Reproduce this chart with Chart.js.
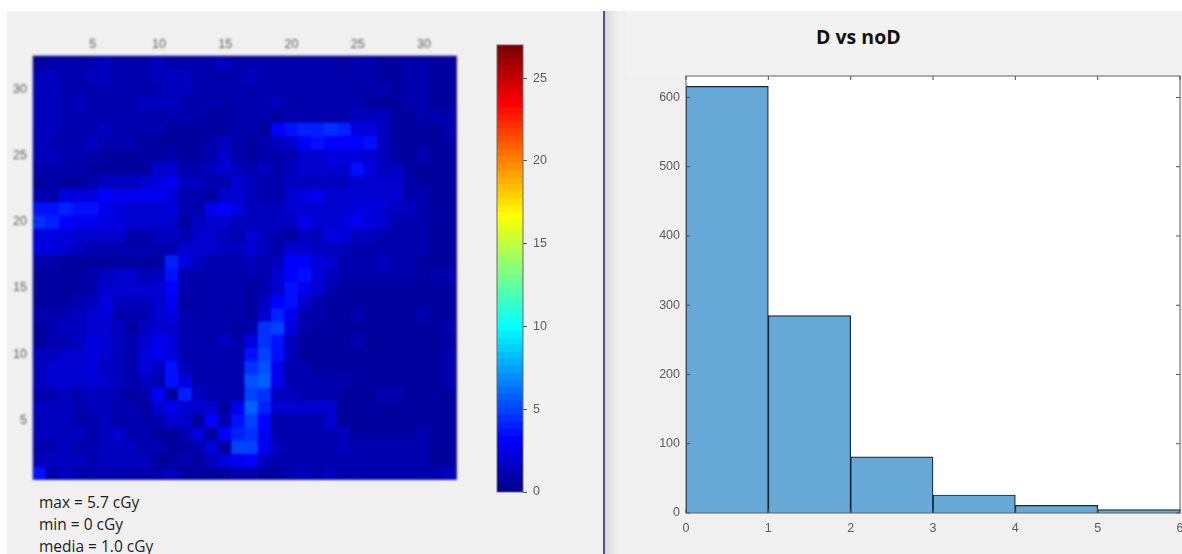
<!DOCTYPE html>
<html>
<head>
<meta charset="utf-8">
<title>D vs noD</title>
<script src="https://cdn.jsdelivr.net/npm/chart.js@4/dist/chart.umd.min.js"></script>
<style>
  html, body { margin: 0; width: 1182px; height: 554px; overflow: hidden; background: #fff; }
  #panel { position: absolute; left: 7px; top: 11px; width: 1175px; height: 543px; background: #f0f0f0; }
  #topBand { position: absolute; left: 626px; top: 11px; width: 556px; height: 64px; background: #f2f2f2; }
  #shadow { position: absolute; left: 604px; top: 11px; width: 14px; height: 543px; background: linear-gradient(to right, #d6d6d6, #f0f0f0); }
  #divider { position: absolute; left: 603px; top: 11px; width: 1.5px; height: 543px; background: #4d5282; }
  canvas { position: absolute; filter: blur(0.6px); }
  #mapCanvas { left: 8px; top: 12px; filter: blur(0.85px); }
  #barCanvas { left: 490px; top: 40px; }
  #histCanvas { left: 640px; top: 70px; }
  #histTitle { position: absolute; left: 816px; top: 23px; font: bold 19.5px "Open Sans", sans-serif; color: #111; white-space: nowrap; }
  #stats { position: absolute; left: 39px; top: 491px; font: 15.5px/22px "Open Sans", sans-serif; color: #222; white-space: nowrap; }
</style>
</head>
<body>
<div id="panel"></div>
<div id="topBand"></div>
<div id="shadow"></div>
<div id="divider"></div>
<canvas id="mapCanvas" width="449" height="468"></canvas>
<canvas id="barCanvas" width="70" height="460"></canvas>
<canvas id="histCanvas" width="560" height="484"></canvas>
<div id="histTitle">D vs noD</div>
<div id="stats">max = 5.7 cGy<br>min = 0 cGy<br>media = 1.0 cGy</div>
<script>
// Dose per cell in cGy. First line is row 32 (top), last is row 1.
const doseRows = [
  [0.6,1.2,1.2,1,1.1,1.3,1.2,1,1.1,1.3,1.2,1,1,1.1,1.3,1,1.2,0.9,0.9,0.9,1,1,0.9,0.7,0.9,0.9,0.7,0.7,0.9,1.1,0.8,0.8],
  [1.3,1.3,1.1,1.1,1.3,1.5,1.2,1,1.1,1.3,1.3,1.4,1.1,1.1,1.1,1.1,1.3,1,1,1,1,1,1,1,1,0.9,0.7,0.7,0.9,1.1,0.8,0.8],
  [1.3,1.3,1.1,1.2,1.2,1.1,1.1,1,1.1,1.2,1.3,1.3,1,1,1,1,1.2,1.2,0.9,1,1,0.9,1,1,1,0.9,0.9,0.8,0.9,1,0.8,0.8],
  [1.3,1.3,1.1,1.3,1.1,1,1,1,1.4,1.3,1.4,1.1,1,1,1,1,1.1,1.1,1.3,0.9,0.9,1.2,1.2,0.9,0.9,0.6,0.7,0.8,0.9,1,0.8,0.8],
  [1.3,1.3,1.1,1.1,1,1,1,1,1,1,1,1,0.9,0.7,0.7,0.9,1.2,1,0.7,1,1,1,1,1,1.3,1.4,1.4,0.8,0.8,0.9,0.9,1.2],
  [1.3,1.3,1.1,1,1,1.3,1,0.9,0.9,0.9,0.8,0.7,0.7,0.8,0.6,1.1,1,0.6,3,3.5,4,4,4.3,4.2,2.4,2.4,1.6,0.8,0.8,0.8,0.8,1],
  [1.3,1.2,1.1,1,1.3,1,0.9,0.9,0.6,0.7,0.8,0.8,0.8,1,1.6,1.2,0.6,1,1.4,2,3.2,3.4,3.3,3.3,3.3,3.4,1.6,0.8,0.8,0.8,0.8,0.8],
  [1.3,1.3,1.1,1,1,0.8,0.7,0.7,0.7,0.8,1,0.8,0.7,1,1.8,1.2,0.8,1,1.1,1.2,2,2,2.4,2.2,2.4,2,1.5,0.8,0.8,1,0.8,0.8],
  [1.2,1.2,1.1,1,0.8,0.7,0.7,0.7,0.7,1.8,1.8,1.2,1.1,1.3,1.8,1.3,1.2,1.4,1.2,1.5,2,2,2,1.7,3.5,2.2,1.6,1.3,0.8,0.8,0.8,0.8],
  [0.8,1,0.8,0.6,1.1,1.4,1.6,1.6,1.9,2.3,2.7,1.6,1.3,1.2,1.2,1.9,1.6,1.2,1,1.5,1.5,1.6,1.6,1.6,2,2,2,1.8,1.2,0.8,0.8,0.8],
  [0.9,1.1,2.2,2.3,2.4,3,2.8,2.6,2.6,2.8,2.4,1.1,0.9,0.8,1.7,2,1.6,1.1,1.2,1.8,2.2,2.6,1.9,1.9,2.1,2.1,2.1,2,1.2,0.9,0.8,0.8],
  [3.6,3.6,4,3.6,3.6,2.6,2.5,1.8,1.8,1.8,2.2,1.1,0.9,2.6,3.3,2.2,1.6,1.3,1.3,1.7,2,2,1.7,2,2.5,2.3,2,1.6,1.4,1,0.8,0.8],
  [4.3,3.9,3,2.8,2.7,2.3,2.2,2,2,1.8,1.8,0.8,1.4,1.8,2,1.5,1.6,1.5,1.3,1.6,2.8,2,1.8,2.2,2.6,2.2,1.7,1,1.2,1,0.8,0.8],
  [2.4,2.4,2.2,2,2,1.7,1.7,1.2,1.2,1.4,1.4,1,1.8,1.8,1.5,1.2,1.8,1.3,1.1,0.8,1.4,1.6,2.4,2.4,1.3,1.3,1.2,1.2,1,0.9,0.8,0.8],
  [2.3,2.2,2,1.4,1.2,1,0.9,0.9,0.9,0.9,0.9,1.8,1.7,1.7,1.4,1.5,1.8,1.4,1.2,1.9,2,1.4,1.4,1.3,1,1,0.9,0.9,0.9,0.9,0.8,0.8],
  [1,0.9,0.8,0.8,0.8,0.8,0.8,0.8,0.8,0.8,3.8,2.4,1.3,1.2,1,1.1,1.4,1.1,1.3,3,3.1,2.2,1.8,1.2,1,1.1,1.6,1,0.9,0.8,0.8,0.8],
  [0.8,0.8,0.8,0.8,0.9,1.3,1.8,1.9,1,1.5,3.4,1.2,0.9,0.9,1.2,1,1,1,1.7,3.2,3.5,2.2,1.4,1,0.9,0.9,0.9,0.9,0.9,0.8,0.9,1.2],
  [0.6,0.6,0.7,0.7,0.9,1.7,2,2.1,2,2,3,1.1,0.9,0.9,0.9,0.9,0.8,1,1.8,3.5,2.6,1.8,0.9,0.8,0.8,0.8,0.8,0.8,0.8,0.8,0.8,0.8],
  [0.6,0.8,0.8,1.2,1.4,2.3,1.6,1.4,1.6,1.8,2.6,0.8,0.9,0.9,1,1,0.7,1.5,3.2,3.6,1.8,0.9,0.8,0.8,0.8,0.8,0.8,0.8,0.8,0.8,0.8,0.8],
  [0.9,1.2,1.2,1.5,1.9,2.2,1.2,1,1.2,1.8,2.2,1,0.9,1,1,0.9,0.7,1.8,4,2.8,1.2,0.9,0.8,0.8,1,0.8,0.8,0.8,0.8,1,0.8,0.8],
  [0.8,1,1.6,1.5,1.9,2.1,1.4,0.8,1.4,1.8,2,1,1,1,0.9,0.8,1.2,4.4,4.8,2.4,1.1,0.8,0.8,0.8,0.8,0.8,0.8,0.8,0.8,0.8,0.8,0.9],
  [0.7,1,1.2,1.4,2.2,2,1.4,1,1.8,2.7,2.2,1,1,1.2,1.6,1,2.4,4.6,3.6,1.4,0.8,0.8,0.8,0.8,0.9,0.8,0.8,0.8,0.8,0.8,0.8,0.8],
  [1.4,1.4,1.8,1.8,2.3,1.8,1.4,1.2,2.4,2.8,2.2,1,1,1.2,1.2,0.9,3.6,4.8,3.4,1.3,0.8,0.8,0.8,0.8,0.8,0.8,0.8,0.8,0.8,0.8,0.8,0.9],
  [1.5,1.9,1.9,1.9,2.2,1.6,1.4,0.9,2.4,1.6,3.6,1.4,0.9,1.1,1.1,1.2,4.4,5.2,2.9,1.1,0.9,0.8,0.8,0.8,0.8,0.8,0.8,0.8,0.8,0.8,0.8,0.9],
  [1.6,1.7,1.7,1.9,2,1.7,1.5,0.9,1.5,1.2,3.6,2.2,1,1.2,1.1,1.2,5.2,5.7,2.7,1.2,1,1,1,1.2,0.8,0.8,0.8,0.8,0.8,0.8,0.8,0.9],
  [1.2,1.2,1.4,1.1,1.5,1.6,1.2,0.8,1.1,3.2,0.7,4.2,1.5,1.2,1.2,1,4.8,4.3,1.6,1.4,1.2,1.2,1.1,0.8,0.8,0.8,1.1,1.1,0.8,0.8,0.8,0.8],
  [1.4,1.4,1.4,1.2,1.3,1.5,1.2,0.9,0.8,2,2.6,2,2,1.7,0.7,2.6,5.7,4,2,2,2,2,1.8,0.8,0.8,0.8,0.8,0.8,0.8,0.8,0.8,0.8],
  [1.3,1.3,1.4,1.2,1.2,1.3,1.2,1,0.9,1,1.7,1.7,0.7,3,1.2,3.4,4.8,3,0.9,0.9,1,1,1.8,0.8,0.8,0.8,0.8,0.8,0.8,0.8,0.8,0.8],
  [1.3,1.3,1.3,1.3,1.2,1.5,1.7,1,0.9,0.8,0.8,0.9,2.4,0.6,3.2,4,4.4,2.9,1,1.1,1,1,1,1.6,0.8,0.8,0.8,0.8,0.8,1.1,0.8,0.8],
  [1.2,1.2,1.3,1.2,1.2,1.4,1.4,1.5,1.2,0.9,0.6,0.7,0.9,2.4,0.7,4.8,5,2.7,1.5,1,1,1,1,1.5,1,1,1.2,0.9,0.9,0.9,0.8,0.8],
  [1.4,1.4,1.4,1.3,1.2,1.5,1.5,1.6,1.6,0.7,0.6,0.9,0.6,1.6,2.2,2.8,3.2,1.5,1,0.9,0.9,1.1,1.1,1.2,1,1,1.1,1.1,0.9,1.1,0.8,0.8],
  [3.4,1,1.3,1.2,1.1,1,1,1,1,1.2,1.4,0.6,0.6,0.6,0.6,0.9,1.2,0.8,0.8,0.9,1.3,1,1.4,0.9,0.9,0.9,0.9,0.9,0.9,0.9,0.9,1.4],
];
const doseMax = 27;
const colorLevelCount = 64;
const mapTicks = [5, 10, 15, 20, 25, 30];

const histEdges = [0, 1, 2, 3, 4, 5, 6];
const histCounts = [616, 285, 81, 26, 11, 5];
const histMax = 631;

const tickColor = "#5c5c5c";
const tickFont = { family: "'Liberation Sans', Arial, sans-serif", size: 12.5 };

function jetChannel(t) {
  return Math.round(255 * Math.max(0, Math.min(1, 1.5 - Math.abs(t))));
}

// MATLAB jet, one of 64 flat levels
function levelColor(level) {
  const t = (level + 1) / colorLevelCount;
  const r = jetChannel(4 * t - 3);
  const g = jetChannel(4 * t - 2);
  const b = jetChannel(4 * t - 1);
  return `rgb(${r}, ${g}, ${b})`;
}

function doseColor(dose) {
  const level = Math.floor((dose / doseMax) * colorLevelCount);
  return levelColor(Math.min(colorLevelCount - 1, level));
}

// white plot background, box round the plot and MATLAB style inner ticks
const axesBox = {
  id: "axesBox",
  beforeDatasetsDraw(chart, args, opts) {
    const { ctx, chartArea: a } = chart;
    if (!opts.fill) return;
    ctx.save();
    ctx.fillStyle = opts.fill;
    ctx.fillRect(a.left, a.top, a.width, a.height);
    ctx.restore();
  },
  afterDatasetsDraw(chart, args, opts) {
    const { ctx, chartArea: a, scales } = chart;
    ctx.save();
    ctx.strokeStyle = opts.color || "#555";
    ctx.lineWidth = 1;
    ctx.strokeRect(a.left, a.top, a.width, a.height);
    if (opts.innerTicks) {
      ctx.strokeStyle = opts.tickColor || ctx.strokeStyle;
      ctx.beginPath();
      scales.x.ticks.forEach((tick, i) => {
        if (!tick.label) return;
        const px = scales.x.getPixelForTick(i);
        ctx.moveTo(px, a.bottom);
        ctx.lineTo(px, a.bottom - 4);
        ctx.moveTo(px, a.top);
        ctx.lineTo(px, a.top + 4);
      });
      scales.y.ticks.forEach((tick, i) => {
        const py = scales.y.getPixelForTick(i);
        ctx.moveTo(a.left, py);
        ctx.lineTo(a.left + 4, py);
        ctx.moveTo(a.right, py);
        ctx.lineTo(a.right - 4, py);
      });
      ctx.stroke();
    }
    ctx.restore();
  },
};

function tickStyle(extra) {
  return Object.assign({ color: tickColor, font: tickFont, maxRotation: 0, autoSkip: false }, extra);
}

// fixed axis size, and no room kept for labels hanging past the plot ends
function fixScaleSize(scale, size) {
  if (size.width !== undefined) scale.width = size.width;
  if (size.height !== undefined) scale.height = size.height;
  scale.paddingTop = 0;
  scale.paddingBottom = 0;
  scale.paddingLeft = 0;
  scale.paddingRight = 0;
}

function drawDoseMap() {
  const columns = doseRows[0].map((_, i) => String(i + 1));
  const datasets = doseRows.map((values, i) => {
    const row = doseRows.length - i;
    return {
      data: values.map(() => [row - 0.5, row + 0.5]),
      backgroundColor: values.map(doseColor),
      borderWidth: 0,
      inflateAmount: 0.5,
      barPercentage: 1,
      categoryPercentage: 1,
      grouped: false,
    };
  });

  new Chart(document.getElementById("mapCanvas"), {
    type: "bar",
    data: { labels: columns, datasets },
    plugins: [axesBox],
    options: {
      responsive: false,
      animation: false,
      plugins: {
        legend: { display: false },
        tooltip: { enabled: false },
        axesBox: { color: "#4a4f78", tickColor: "#14146e", innerTicks: true, fill: "#00009f" },
      },
      scales: {
        x: {
          position: "top",
          grid: { display: false, drawTicks: false },
          border: { display: false },
          ticks: tickStyle({
            padding: 4,
            callback: function (val) {
              const label = Number(this.getLabelForValue(val));
              return mapTicks.includes(label) ? String(label) : "";
            },
          }),
          afterFit: (scale) => fixScaleSize(scale, { height: 44 }),
        },
        y: {
          min: 0.5,
          max: doseRows.length + 0.5,
          grid: { display: false, drawTicks: false },
          border: { display: false },
          afterBuildTicks: (scale) => { scale.ticks = mapTicks.map((value) => ({ value })); },
          ticks: tickStyle({ padding: 6 }),
          afterFit: (scale) => fixScaleSize(scale, { width: 25 }),
        },
      },
    },
  });
}

function drawColorBar() {
  const datasets = [];
  for (let i = 0; i < colorLevelCount; i++) {
    datasets.push({
      data: [[(i * doseMax) / colorLevelCount, ((i + 1) * doseMax) / colorLevelCount]],
      backgroundColor: levelColor(i),
      borderWidth: 0,
      inflateAmount: 0.5,
      barPercentage: 1,
      categoryPercentage: 1,
      grouped: false,
    });
  }

  new Chart(document.getElementById("barCanvas"), {
    type: "bar",
    data: { labels: [""], datasets },
    plugins: [axesBox],
    options: {
      responsive: false,
      animation: false,
      layout: { padding: { left: 7, top: 5, bottom: 8 } },
      plugins: {
        legend: { display: false },
        tooltip: { enabled: false },
        axesBox: { color: "#6b6b6b" },
      },
      scales: {
        x: { display: false },
        y: {
          position: "right",
          min: 0,
          max: doseMax,
          grid: { drawOnChartArea: false, drawTicks: true, tickLength: 4, color: "#555" },
          border: { display: false },
          ticks: tickStyle({ stepSize: 5, includeBounds: false, padding: 6 }),
          afterFit: (scale) => fixScaleSize(scale, { width: 37 }),
        },
      },
    },
  });
}

function drawHistogram() {
  const bars = histCounts.map((count, i) => ({
    x: (histEdges[i] + histEdges[i + 1]) / 2,
    y: count,
  }));

  new Chart(document.getElementById("histCanvas"), {
    type: "bar",
    data: {
      datasets: [
        {
          data: bars,
          backgroundColor: "#66a9d6",
          borderColor: "#14283a",
          borderWidth: 1.2,
          barPercentage: 1,
          categoryPercentage: 1,
        },
      ],
    },
    plugins: [axesBox],
    options: {
      responsive: false,
      animation: false,
      layout: { padding: { top: 6, right: 20 } },
      plugins: {
        legend: { display: false },
        tooltip: { enabled: false },
        axesBox: { color: "#606060", tickColor: "#505050", innerTicks: true, fill: "#ffffff" },
      },
      scales: {
        x: {
          type: "linear",
          offset: false,
          min: histEdges[0],
          max: histEdges[histEdges.length - 1],
          grid: { display: false, drawTicks: false },
          border: { display: false },
          ticks: tickStyle({ stepSize: 1, padding: 8 }),
          afterFit: (scale) => fixScaleSize(scale, { height: 41 }),
        },
        y: {
          min: 0,
          max: histMax,
          grid: { display: false, drawTicks: false },
          border: { display: false },
          ticks: tickStyle({ stepSize: 100, includeBounds: false, padding: 6 }),
          afterFit: (scale) => fixScaleSize(scale, { width: 46 }),
        },
      },
    },
  });
}

document.addEventListener("DOMContentLoaded", () => {
  drawDoseMap();
  drawColorBar();
  drawHistogram();
});
</script>
</body>
</html>
